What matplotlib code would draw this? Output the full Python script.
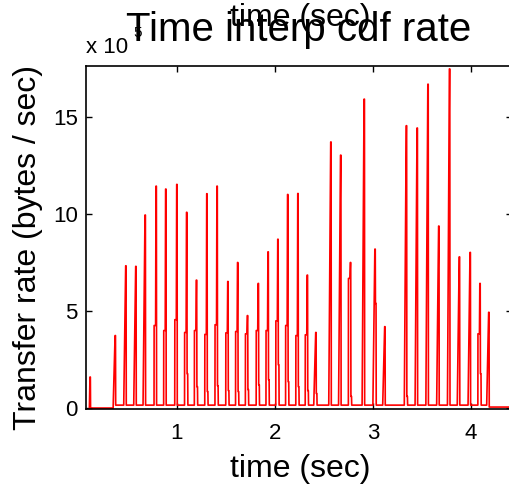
import matplotlib
matplotlib.use("Agg")
import matplotlib.pyplot as plt

plt.rcParams['font.family'] = ['Liberation Sans', 'DejaVu Sans']

# spikes (time in sec, rates in units of 1e5 bytes/sec)
spike_t = [0.116, 0.372, 0.48, 0.582, 0.677, 0.789, 0.887, 1.00, 1.10, 1.20,
           1.306, 1.41, 1.52, 1.62, 1.72, 1.83, 1.93, 2.03, 2.13, 2.234,
           2.33, 2.417, 2.57, 2.67, 2.77, 2.91, 3.02, 3.12, 3.34, 3.45,
           3.56, 3.67, 3.78, 3.88, 3.99, 4.09, 4.18]
spike_pre = [0, 0, 0, 0, 0, 4.26, 4.0, 4.56, 3.9, 4.0,
             3.8, 4.3, 3.88, 3.95, 3.83, 4.0, 4.0, 4.5, 4.26, 3.74,
             3.78, 0, 0, 0, 6.69, 0, 0, 0, 0, 0,
             0, 0, 0, 0, 0, 3.83, 0]
spike_peak = [1.6, 3.74, 7.34, 7.31, 9.96, 11.45, 11.3, 11.54, 10.1, 6.6,
              11.06, 11.45, 6.53, 7.51, 4.77, 6.43, 8.06, 8.71, 11.02, 11.07,
              6.86, 3.9, 13.73, 13.05, 7.51, 15.94, 8.2, 4.2, 14.57, 14.45,
              16.71, 9.39, 17.5, 7.8, 8.03, 6.43, 4.94]
spike_tail = [0, 0, 0, 0, 0, 0, 0, 0, 1.77, 1.1,
              0.85, 1.15, 0.9, 0.85, 0.95, 1.2, 1.46, 2.23, 1.36, 1.1,
              0.9, 0.75, 0, 0, 0.6, 0, 5.4, 0, 0.6, 0,
              0, 0, 0, 0, 0, 1.77, 0]
# baseline level after each spike
base_after = [0] + [0.15] * 35 + [0.05]
end_t = [4.395, 4.42]
end_v = [0.05, 0.6]

t, v = [0.11], [0.0]
for i in range(len(spike_t)):
    t0 = spike_t[i]
    if i > 0:
        t.append(t0 - 0.02); v.append(v[-1])
    if spike_pre[i] > 0:
        t += [t0 - 0.019, t0 - 0.004]; v += [spike_pre[i], spike_pre[i]]
    t += [t0, t0 + 0.004]; v += [spike_peak[i], spike_peak[i]]
    if spike_tail[i] > 0:
        t += [t0 + 0.006, t0 + 0.012]; v += [spike_tail[i], spike_tail[i]]
    t.append(t[-1] + 0.002); v.append(base_after[i])
t += end_t; v += end_v

fig = plt.figure(figsize=(5.10, 4.84), dpi=100)
ax = fig.add_axes([86 / 510, 75 / 484, 426 / 510, 343 / 484])
ax.plot(t, [x * 1e5 for x in v], color='red', lw=1.2)

ax.set_xlim(0.0755, 4.418)
ax.set_ylim(-0.05e5, 17.65e5)
ax.set_xticks([1, 2, 3, 4])
ax.set_yticks([0, 5e5, 10e5, 15e5])
ax.set_yticklabels(['0', '5', '10', '15'])
ax.tick_params(direction='in', length=4, width=1, top=True, right=True,
               labelsize=16, pad=6, colors='black')
ax.tick_params(axis='x', pad=10)
for s in ax.spines.values():
    s.set_linewidth(1.2)

fig.text(299 / 510, 1 - 41 / 484, 'Time interp cdf rate', fontsize=29,
         ha='center', va='baseline')
fig.text(300 / 510, 1 - 26 / 484, 'time (sec)', fontsize=23,
         ha='center', va='baseline')
fig.text(300 / 510, 1 - 477 / 484, 'time (sec)', fontsize=23,
         ha='center', va='baseline')
fig.text(28 / 510, 237 / 484, 'Transfer rate (bytes / sec)', fontsize=23,
         rotation=90, ha='center', va='center')
fig.text(86 / 510, 1 - 53 / 484, 'x 10', fontsize=16, ha='left', va='baseline')
fig.text(133 / 510, 1 - 37 / 484, '5', fontsize=11, ha='left', va='baseline')

fig.savefig('out.png', dpi=100)
